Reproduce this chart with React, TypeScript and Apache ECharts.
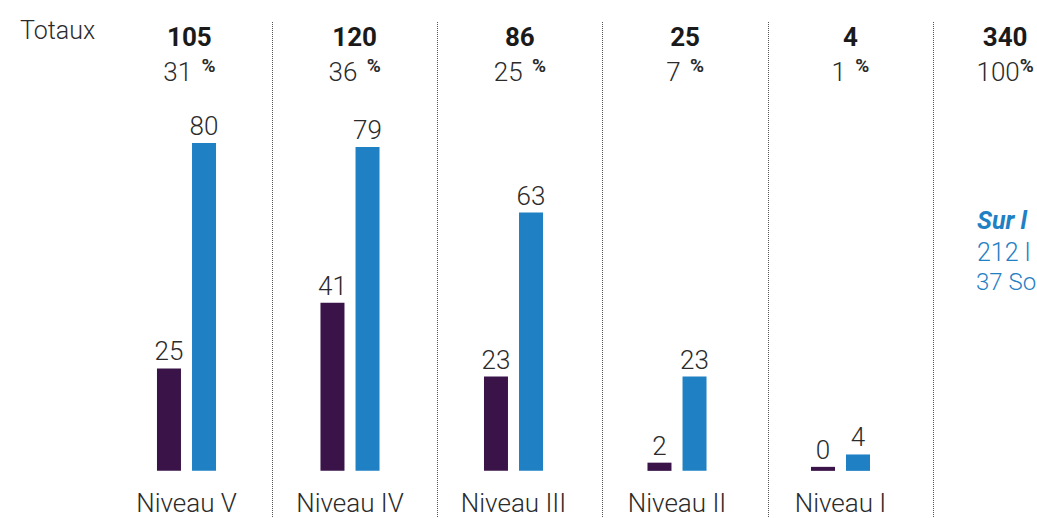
import React, { useEffect, useRef } from "react";
import * as echarts from "echarts";

const categories = ["Niveau V", "Niveau IV", "Niveau III", "Niveau II", "Niveau I"];
const purpleValues = [25, 41, 23, 2, 0];
const blueValues = [80, 79, 63, 23, 4];
const totalColumns = ["V", "IV", "III", "II", "I", "Total"];
const totalValues = ["105", "120", "86", "25", "4", "340"];
const totalPercents = ["31", "36", "25", "7", "1", "100"];
const sideTitle = "Sur l";
const sideLines = ["212 l", "37 So"];

const PURPLE = "#3a1449";
const BLUE = "#1f80c4";
const TEXT = "#2b2b2b";

export default function App() {
  const ref = useRef<HTMLDivElement>(null);
  useEffect(() => {
    document.body.style.margin = "0";
    const chart = echarts.init(ref.current!, null, { renderer: "svg" });
    const last = totalColumns.length - 1;
    chart.setOption({
      animation: false,
      backgroundColor: "#ffffff",
      textStyle: { fontFamily: "Roboto" },
      grid: [
        { left: 104.75, width: 817.5, top: 22, bottom: 0, outerBoundsMode: "none" },
        { left: 106.75, width: 991.5, top: 22, bottom: 0, outerBoundsMode: "none" },
      ],
      xAxis: [
        {
          gridIndex: 0,
          type: "category",
          data: categories,
          axisLine: { show: false },
          axisTick: { show: false },
          splitLine: { show: false },
          axisLabel: {
            inside: true,
            margin: 0,
            interval: 0,
            fontSize: 26,
            fontWeight: 300,
            lineHeight: 30,
            color: TEXT,
            fontFamily: "Roboto",
          },
        },
        {
          gridIndex: 1,
          type: "category",
          position: "top",
          data: totalColumns,
          axisLine: { show: false },
          axisTick: { show: false },
          splitLine: {
            show: true,
            interval: (i: number) => i !== 0,
            lineStyle: { type: "dotted", color: "#555", width: 1 },
          },
          axisLabel: {
            inside: true,
            margin: 0,
            interval: 0,
            formatter: (_v: string, i: number) =>
              i === last
                ? `{bl|${totalValues[i]}}\n{pl|${totalPercents[i]}}{sl|%}`
                : `{b|${totalValues[i]}}\n{p|${totalPercents[i]} }{s|%}`,
            rich: {
              b: { fontSize: 26, fontWeight: "bold", lineHeight: 30, color: "#1a1a1a", fontFamily: "Roboto" },
              p: { fontSize: 26, fontWeight: 300, lineHeight: 40, color: TEXT, fontFamily: "Roboto" },
              s: { fontSize: 19, fontWeight: "bold", lineHeight: 22, verticalAlign: "top", color: TEXT, padding: [4, 0, 0, 3], fontFamily: "Roboto" },
              bl: { fontSize: 26, fontWeight: "bold", lineHeight: 30, color: "#1a1a1a", padding: [0, 21, 0, 0], fontFamily: "Roboto" },
              pl: { fontSize: 26, fontWeight: 300, lineHeight: 40, color: TEXT, fontFamily: "Roboto" },
              sl: { fontSize: 19, fontWeight: "bold", lineHeight: 22, verticalAlign: "top", color: TEXT, padding: [4, 21, 0, 0], fontFamily: "Roboto" },
            },
          },
        },
      ],
      yAxis: [
        { gridIndex: 0, type: "value", min: -11.5, max: 109.5, show: false },
        { gridIndex: 1, type: "value", min: 0, max: 1, show: false },
      ],
      series: [
        {
          type: "bar",
          xAxisIndex: 0,
          yAxisIndex: 0,
          data: purpleValues,
          barWidth: 24,
          barGap: "46%",
          barMinHeight: 4,
          itemStyle: { color: PURPLE },
          label: { show: true, position: "top", distance: 4, fontSize: 26, fontWeight: 300, color: TEXT, fontFamily: "Roboto" },
        },
        {
          type: "bar",
          xAxisIndex: 0,
          yAxisIndex: 0,
          data: blueValues,
          barWidth: 24,
          barGap: "46%",
          barMinHeight: 4,
          itemStyle: { color: BLUE },
          label: { show: true, position: "top", distance: 4, fontSize: 26, fontWeight: 300, color: TEXT, fontFamily: "Roboto" },
        },
      ],
      graphic: [
        {
          type: "text",
          left: 20,
          top: 18,
          style: { text: "Totaux", fontSize: 25, fontWeight: 300, fontFamily: "Roboto", fill: TEXT },
        },
        {
          type: "text",
          left: 977,
          top: 208,
          style: { text: sideTitle, fontSize: 25, fontWeight: "bold", fontStyle: "italic", fontFamily: "Roboto", fill: BLUE },
        },
        {
          type: "text",
          left: 977,
          top: 240,
          style: { text: sideLines[0], fontSize: 25, fontWeight: 300, fontFamily: "Roboto", fill: BLUE },
        },
        {
          type: "text",
          left: 976,
          top: 270,
          style: { text: sideLines[1], fontSize: 24, fontWeight: 300, fontFamily: "Roboto", fill: BLUE },
        },
      ],
    });
    return () => chart.dispose();
  }, []);
  return <div ref={ref} style={{ width: 1037, height: 518 }} />;
}
